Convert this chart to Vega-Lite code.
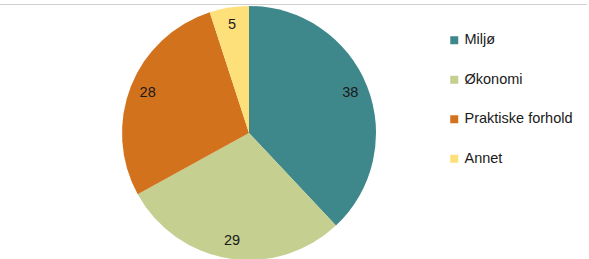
{
  "$schema": "https://vega.github.io/schema/vega-lite/v6.json",
  "width": 589,
  "height": 300,
  "autosize": {"type": "none"},
  "padding": {"left": -2, "top": 4, "right": 0, "bottom": 0},
  "background": "white",
  "view": {"stroke": "#cfcfcf", "strokeWidth": 1},
  "config": {
    "view": {"stroke": "#cfcfcf", "strokeWidth": 1},
    "font": "Liberation Sans"
  },
  "data": {
    "values": [
      {"kategori": "Miljø", "verdi": 38, "rekkefolge": 1},
      {"kategori": "Økonomi", "verdi": 29, "rekkefolge": 2},
      {"kategori": "Praktiske forhold", "verdi": 28, "rekkefolge": 3},
      {"kategori": "Annet", "verdi": 5, "rekkefolge": 4}
    ]
  },
  "encoding": {
    "theta": {"field": "verdi", "type": "quantitative", "stack": true},
    "order": {"field": "rekkefolge", "type": "quantitative"}
  },
  "layer": [
    {
      "mark": {"type": "arc", "x": 251, "y": 129, "outerRadius": 127},
      "encoding": {
        "color": {
          "field": "kategori",
          "type": "nominal",
          "sort": ["Miljø", "Økonomi", "Praktiske forhold", "Annet"],
          "scale": {
            "domain": ["Miljø", "Økonomi", "Praktiske forhold", "Annet"],
            "range": ["#3E878B", "#C4CF90", "#D3721D", "#FEE07A"]
          },
          "legend": {
            "title": null,
            "orient": "none",
            "legendX": 449,
            "legendY": 29,
            "padding": 0,
            "symbolType": "square",
            "symbolSize": 64,
            "symbolStrokeWidth": 0,
            "labelFont": "Liberation Sans",
            "labelFontSize": 14.5,
            "labelColor": "#1a1a1a",
            "labelOffset": 3,
            "rowPadding": 24.5,
            "labelLimit": 200
          }
        }
      }
    },
    {
      "mark": {"type": "text", "x": 251, "y": 129, "radius": 109, "font": "Liberation Sans", "fontSize": 14.5, "color": "#1a1a1a"},
      "encoding": {
        "detail": {"field": "kategori", "type": "nominal"},
        "text": {"field": "verdi", "type": "quantitative"}
      }
    }
  ]
}
